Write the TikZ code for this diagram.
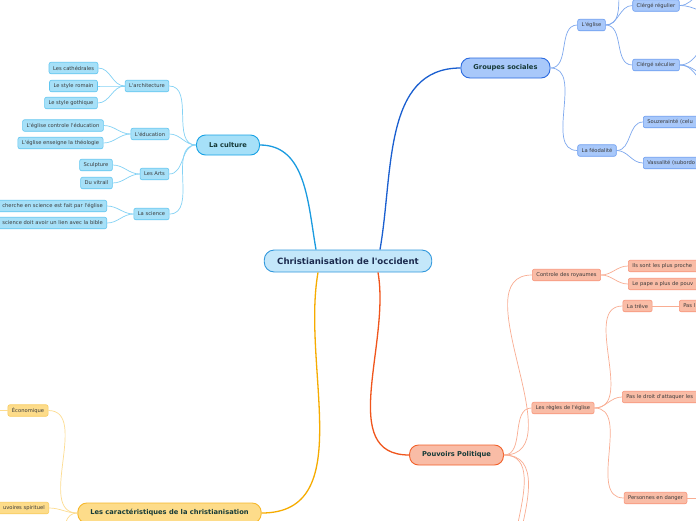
\documentclass[tikz,border=0pt]{standalone}
\usepackage{fontspec}
\setmainfont{DejaVu Sans}[Ligatures=TeXOff]
\usepackage{xcolor}
\usepackage{tikz}
\usetikzlibrary{positioning,calc}
\definecolor{rootfill}{HTML}{C4E7FA}
\definecolor{rootdraw}{HTML}{3399DD}
\definecolor{roottext}{HTML}{1B2A4E}
\definecolor{topictext}{HTML}{163A38}
\definecolor{subtext}{HTML}{3A3A3A}
\definecolor{culfill}{HTML}{A6E0F8}
\definecolor{culdraw}{HTML}{17A2E5}
\definecolor{culline}{HTML}{1A9BE0}
\definecolor{culsubdraw}{HTML}{62C6F0}
\definecolor{culsubline}{HTML}{84D2F5}
\definecolor{grpfill}{HTML}{A8C8FA}
\definecolor{grpdraw}{HTML}{2A6AE0}
\definecolor{grpline}{HTML}{1A5FD0}
\definecolor{grpsubdraw}{HTML}{6A9CF0}
\definecolor{grpsubline}{HTML}{7EA8EE}
\definecolor{polfill}{HTML}{F9BCA6}
\definecolor{poldraw}{HTML}{F2612A}
\definecolor{polline}{HTML}{F0551C}
\definecolor{polsubdraw}{HTML}{F8957A}
\definecolor{polsubline}{HTML}{F9AD92}
\definecolor{carfill}{HTML}{FDDC8A}
\definecolor{cardraw}{HTML}{F6B82C}
\definecolor{carline}{HTML}{F6AC00}
\definecolor{carsubdraw}{HTML}{F8CC60}
\definecolor{carsubline}{HTML}{FDDC90}

\begin{document}
\begin{tikzpicture}[
  x=1pt, y=-1pt,
  rootbox/.style={draw=rootdraw, fill=rootfill, line width=0.9pt, rounded corners=10pt,
    minimum height=22pt, inner xsep=13pt, text=roottext,
    font=\bfseries\fontsize{8.6}{10}\selectfont},
  topic/.style 2 args={draw=#2, fill=#1, line width=0.9pt, rounded corners=9pt,
    minimum height=20pt, inner xsep=12.5pt, text=topictext,
    font=\bfseries\fontsize{6.7}{8}\selectfont},
  sub/.style 2 args={draw=#2, fill=#1, line width=0.6pt, rounded corners=2pt,
    minimum height=11.5pt, inner xsep=4pt, inner ysep=0pt, text=subtext,
    font=\fontsize{5.2}{6}\selectfont},
  cutr/.style={anchor=west, text width=#1, align=left},
  cutl/.style={anchor=east, text width=#1, align=right},
  link/.style={line width=1.3pt, draw=#1},
  sublink/.style={line width=0.7pt, draw=#1}
]
\useasboundingbox (0,0) rectangle (696,520);
\fill[white] (0,0) rectangle (696,520);
\clip (0,0) rectangle (696,520);

% centre
\node[rootbox] (root) at (348,261) {Christianisation de l'occident};

% la culture
\node[topic={culfill}{culdraw}] (culture) at (228,145) {La culture};
\node[sub={culfill}{culsubdraw}] (archi) at (147,86) {L'architecture};
\node[sub={culfill}{culsubdraw}] (cathe) at (73.5,68) {Les cathédrales};
\node[sub={culfill}{culsubdraw}] (romain) at (73.5,86) {Le style romain};
\node[sub={culfill}{culsubdraw}] (gothique) at (71,103) {Le style gothique};
\node[sub={culfill}{culsubdraw}] (educ) at (150,134) {L'éducation};
\node[sub={culfill}{culsubdraw}] (edctrl) at (63,125.5) {L'église controle l'éducation};
\node[sub={culfill}{culsubdraw}] (edtheo) at (60.5,143) {L'église enseigne la théologie};
\node[sub={culfill}{culsubdraw}] (arts) at (154.5,174) {Les Arts};
\node[sub={culfill}{culsubdraw}] (sculpt) at (96,165) {Sculpture};
\node[sub={culfill}{culsubdraw}] (vitrail) at (96.5,183) {Du vitrail};
\node[sub={culfill}{culsubdraw}] (science) at (151.5,214) {La science};
\node[sub={culfill}{culsubdraw}, cutl=120pt] (recherche) at (107,206) {cherche en science est fait par l'église};
\node[sub={culfill}{culsubdraw}, cutl=120pt] (bible) at (107,223) {science doit avoir un lien avec la bible};

\draw[link=culline] ($(root.north)+(-32,0)$) to[out=100,in=0] (culture.east);
\draw[sublink=culsubline] (culture.west) to[out=180,in=0] (archi.east);
\draw[sublink=culsubline] (culture.west) to[out=180,in=0] (educ.east);
\draw[sublink=culsubline] (culture.west) to[out=180,in=0] (arts.east);
\draw[sublink=culsubline] (culture.west) to[out=180,in=0] (science.east);
\draw[sublink=culsubline] (archi.west) to[out=180,in=0] (cathe.east);
\draw[sublink=culsubline] (archi.west) to[out=180,in=0] (romain.east);
\draw[sublink=culsubline] (archi.west) to[out=180,in=0] (gothique.east);
\draw[sublink=culsubline] (educ.west) to[out=180,in=0] (edctrl.east);
\draw[sublink=culsubline] (educ.west) to[out=180,in=0] (edtheo.east);
\draw[sublink=culsubline] (arts.west) to[out=180,in=0] (sculpt.east);
\draw[sublink=culsubline] (arts.west) to[out=180,in=0] (vitrail.east);
\draw[sublink=culsubline] (science.west) to[out=180,in=0] (recherche.east);
\draw[sublink=culsubline] (science.west) to[out=180,in=0] (bible.east);

% groupes sociales
\node[topic={grpfill}{grpdraw}] (groupes) at (505.5,68) {Groupes sociales};
\node[sub={grpfill}{grpsubdraw}] (eglise) at (591.5,25) {L'église};
\node[sub={grpfill}{grpsubdraw}] (regulier) at (656,5.5) {Clérgé régulier};
\node[sub={grpfill}{grpsubdraw}] (seculier) at (656,65) {Clérgé séculier};
\node[sub={grpfill}{grpsubdraw}] (feodal) at (597,150.5) {La féodalité};
\node[sub={grpfill}{grpsubdraw}, cutr=80pt] (suzer) at (643,122) {Souzerainté (celu};
\node[sub={grpfill}{grpsubdraw}, cutr=80pt] (vassal) at (643,163) {Vassalité (subordo};
\coordinate (eglhaut) at (632,-40);
\coordinate (reg1) at (716,-20);
\coordinate (reg2) at (716,14);
\coordinate (sec1) at (720,36);
\coordinate (sec2) at (720,82);
\coordinate (sec3) at (720,96);

\draw[link=grpline] ($(root.north)+(32,0)$) to[out=80,in=180] (groupes.west);
\draw[sublink=grpsubline] (groupes.east) to[out=0,in=180] (eglise.west);
\draw[sublink=grpsubline] (groupes.east) to[out=0,in=180] (feodal.west);
\draw[sublink=grpsubline] (eglise.east) to[out=0,in=180] (eglhaut);
\draw[sublink=grpsubline] (eglise.east) to[out=0,in=180] (regulier.west);
\draw[sublink=grpsubline] (eglise.east) to[out=0,in=180] (seculier.west);
\draw[sublink=grpsubline] (regulier.east) to[out=0,in=180] (reg1);
\draw[sublink=grpsubline] (regulier.east) to[out=0,in=180] (reg2);
\draw[sublink=grpsubline] (seculier.east) to[out=0,in=180] (sec1);
\draw[sublink=grpsubline] (seculier.east) to[out=0,in=180] (sec2);
\draw[sublink=grpsubline] (seculier.east) to[out=0,in=180] (sec3);
\draw[sublink=grpsubline] (feodal.east) to[out=0,in=180] (suzer.west);
\draw[sublink=grpsubline] (feodal.east) to[out=0,in=180] (vassal.west);

% pouvoirs politique
\node[topic={polfill}{poldraw}] (pouvoirs) at (456.5,455) {Pouvoirs Politique};
\node[sub={polfill}{polsubdraw}] (royaumes) at (566.5,275) {Controle des royaumes};
\node[sub={polfill}{polsubdraw}, cutr=80pt] (proches) at (628,266) {Ils sont les plus proche};
\node[sub={polfill}{polsubdraw}, cutr=80pt] (pape) at (628,284) {Le pape a plus de pouv};
\node[sub={polfill}{polsubdraw}] (regles) at (563,408) {Les règles de l'église};
\node[sub={polfill}{polsubdraw}] (treve) at (637.5,306) {La trêve};
\node[sub={polfill}{polsubdraw}, cutr=40pt] (pasl) at (679,306) {Pas l};
\node[sub={polfill}{polsubdraw}, cutr=90pt] (droit) at (622,397) {Pas le droit d'attaquer les};
\node[sub={polfill}{polsubdraw}] (danger) at (655.5,498) {Personnes en danger};
\coordinate (polbas1) at (530,600);
\coordinate (polbas2) at (530,640);
\coordinate (dangerd) at (720,498);

\draw[link=polline] ($(root.south)+(30,0)$) to[out=-80,in=180] (pouvoirs.west);
\draw[sublink=polsubline] (pouvoirs.east) to[out=0,in=180] (royaumes.west);
\draw[sublink=polsubline] (pouvoirs.east) to[out=0,in=180] (regles.west);
\draw[sublink=polsubline] (pouvoirs.east) to[out=0,in=180] (polbas1);
\draw[sublink=polsubline] (pouvoirs.east) to[out=0,in=180] (polbas2);
\draw[sublink=polsubline] (royaumes.east) to[out=0,in=180] (proches.west);
\draw[sublink=polsubline] (royaumes.east) to[out=0,in=180] (pape.west);
\draw[sublink=polsubline] (regles.east) to[out=0,in=180] (treve.west);
\draw[sublink=polsubline] (regles.east) to[out=0,in=180] (droit.west);
\draw[sublink=polsubline] (regles.east) to[out=0,in=180] (danger.west);
\draw[sublink=polsubline] (treve.east) -- (pasl.west);
\draw[sublink=polsubline] (danger.east) -- (dangerd);

% les caracteristiques
\node[topic={carfill}{cardraw}] (caract) at (169.5,513) {Les caractéristiques de la christianisation};
\node[sub={carfill}{carsubdraw}] (econ) at (28,410.5) {Économique};
\node[sub={carfill}{carsubdraw}, cutl=70pt] (spirit) at (49,508) {uvoires spirituel};
\coordinate (econg) at (-20,410.5);
\coordinate (carbas) at (49,570);

\draw[link=carline] ($(root.south)+(-30,0)$) to[out=-100,in=0] (caract.east);
\draw[sublink=carsubline] (caract.west) to[out=180,in=0] (econ.east);
\draw[sublink=carsubline] (caract.west) to[out=180,in=0] (spirit.east);
\draw[sublink=carsubline] (caract.west) to[out=180,in=0] (carbas);
\draw[sublink=carsubline] (econ.west) -- (econg);
\end{tikzpicture}
\end{document}
